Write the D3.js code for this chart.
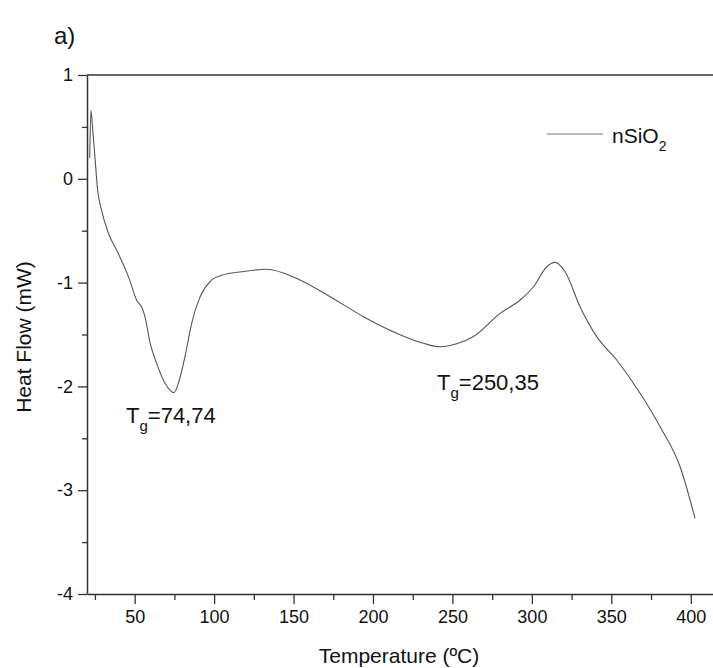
<!DOCTYPE html>
<html>
<head>
<meta charset="utf-8">
<script src="https://cdn.jsdelivr.net/npm/d3@7"></script>
<style>
  body { margin: 0; background: #fff; }
  svg { font-family: "Liberation Sans", Arial, sans-serif; }
</style>
</head>
<body>
<div id="chart"></div>
<script>
// DSC curve
const temperature = [21.7, 22.5, 23.3, 25.0, 26.7, 28.8, 33.4, 39.7, 46.0, 51.3, 54.8, 56.5, 59.7, 63.9, 69.1, 72.5, 74.7, 77.5, 81.7, 85.9, 91.1, 97.4, 104.8, 117.4, 133.1, 152, 173, 194, 215, 231.7, 242.2, 252.7, 263.2, 280, 292.6, 301, 309.4, 314.6, 320.9, 330.3, 340.8, 353.4, 368.1, 380.7, 393.3, 402.7];
const heatFlow = [0.20, 0.66, 0.53, 0.21, -0.11, -0.28, -0.52, -0.72, -0.94, -1.17, -1.25, -1.33, -1.58, -1.78, -1.97, -2.04, -2.06, -1.97, -1.71, -1.39, -1.14, -0.99, -0.93, -0.895, -0.872, -0.96, -1.136, -1.328, -1.488, -1.585, -1.618, -1.59, -1.52, -1.296, -1.168, -1.04, -0.847, -0.805, -0.895, -1.232, -1.52, -1.746, -2.066, -2.388, -2.774, -3.271];

const xTicks = [50, 100, 150, 200, 250, 300, 350, 400];
const xMinor = [25, 75, 125, 175, 225, 275, 325, 375];
const yTicks = [-4, -3, -2, -1, 0, 1];
const yMinor = [-3.5, -2.5, -1.5, -0.5, 0.5];

const seriesName = "nSiO";
const notes = [
  {text: "T", sub: "g", rest: "=74,74"},
  {text: "T", sub: "g", rest: "=250,35"}
];

const W = 713, H = 668;
const svg = d3.select("#chart").append("svg")
  .attr("width", W).attr("height", H);

const x = d3.scaleLinear().domain([20, 414]).range([87, 713]);
const y = d3.scaleLinear().domain([-4, 1]).range([594, 75]);

const axisColor = "#333";
const fontFam = "'Liberation Sans', Arial, sans-serif";

// panel label
svg.append("text")
  .attr("x", 54).attr("y", 44)
  .style("font-size", "24px").style("fill", "#111")
  .text("a)");

// top frame line
svg.append("line")
  .attr("x1", x(20)).attr("x2", W)
  .attr("y1", y(1)).attr("y2", y(1))
  .attr("stroke", axisColor).attr("stroke-width", 1.5);

// x axis
const gx = svg.append("g").attr("transform", `translate(0,${y(-4)})`);
gx.call(d3.axisBottom(x).tickValues(xTicks).tickSize(10).tickSizeOuter(0).tickPadding(6));
gx.selectAll("text").style("font-size", "18px").style("fill", "#111")
  .style("font-family", fontFam);
gx.append("g").call(d3.axisBottom(x).tickValues(xMinor).tickSize(6).tickFormat(""))
  .select(".domain").remove();
gx.selectAll("path.domain").attr("stroke", axisColor).attr("stroke-width", 1.5);
gx.selectAll("line").attr("stroke", axisColor).attr("stroke-width", 1.3);

// y axis
const gy = svg.append("g").attr("transform", `translate(${x(20)},0)`);
gy.call(d3.axisLeft(y).tickValues(yTicks).tickSize(9).tickSizeOuter(0).tickPadding(5));
gy.selectAll("text").style("font-size", "18px").style("fill", "#111")
  .style("font-family", fontFam)
  .text(d => d < 0 ? "-" + Math.abs(d) : d);
gy.append("g").call(d3.axisLeft(y).tickValues(yMinor).tickSize(5).tickFormat(""))
  .select(".domain").remove();
gy.selectAll("path.domain").attr("stroke", axisColor).attr("stroke-width", 1.5);
gy.selectAll("line").attr("stroke", axisColor).attr("stroke-width", 1.3);

// axis titles
svg.append("text")
  .attr("x", 399).attr("y", 663)
  .attr("text-anchor", "middle")
  .style("font-size", "21px").style("fill", "#111")
  .text("Temperature (ºC)");

svg.append("text")
  .attr("transform", "translate(31,337) rotate(-90)")
  .attr("text-anchor", "middle")
  .style("font-size", "21px").style("fill", "#111")
  .text("Heat Flow (mW)");

// curve
const data = temperature.map((t, i) => ({t: t, v: heatFlow[i]}));
const line = d3.line()
  .x(d => x(d.t))
  .y(d => y(d.v))
  .curve(d3.curveMonotoneX);

svg.append("path")
  .datum(data)
  .attr("fill", "none")
  .attr("stroke", "#555")
  .attr("stroke-width", 1.1)
  .attr("d", line);

// legend
svg.append("line")
  .attr("x1", 547).attr("x2", 603)
  .attr("y1", 134).attr("y2", 134)
  .attr("stroke", "#777").attr("stroke-width", 1.2);
const leg = svg.append("text")
  .attr("x", 612).attr("y", 143)
  .style("font-size", "21px").style("fill", "#111");
leg.append("tspan").text(seriesName);
leg.append("tspan").attr("dy", 8).style("font-size", "14px").text("2");

// Tg annotations
const notePos = [[126, 423], [437, 390]];
notes.forEach((n, i) => {
  const t = svg.append("text")
    .attr("x", notePos[i][0]).attr("y", notePos[i][1])
    .style("font-size", "22px").style("fill", "#111");
  t.append("tspan").text(n.text);
  t.append("tspan").attr("dy", 8).style("font-size", "15px").text(n.sub);
  t.append("tspan").attr("dy", -8).text(n.rest);
});
</script>
</body>
</html>
